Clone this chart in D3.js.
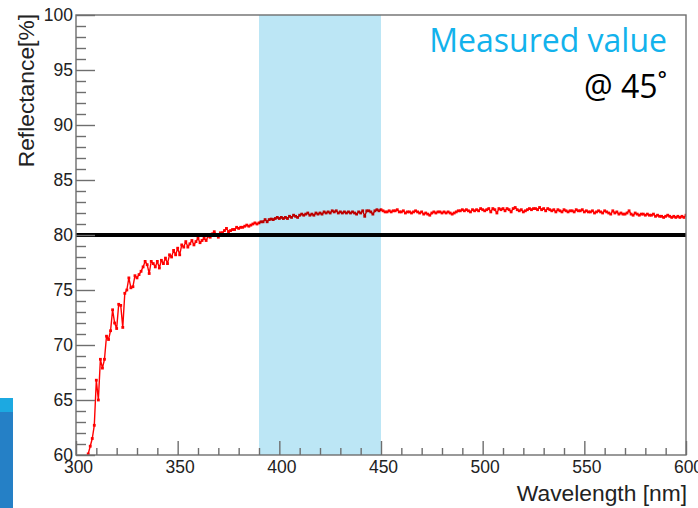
<!DOCTYPE html>
<html>
<head>
<meta charset="utf-8">
<script src="https://cdn.jsdelivr.net/npm/d3@7"></script>
<style>
  body { margin: 0; background: #fff; }
  svg { display: block; }
  .axis text { font-family: "Liberation Sans", Arial, sans-serif; font-size: 17.5px; fill: #222; }
  .axis path, .axis line { stroke: #6e6e6e; stroke-width: 1.4; }
</style>
</head>
<body>
<div id="graph"></div>
<script>
// measured reflectance, one sample per nm starting at 306 nm
var wlStart = 306;
var reflectance = [
  60.1, 60.8, 61.5, 62.7, 66.8, 65.0, 68.7, 67.9, 68.7, 70.8,
  70.5, 71.3, 73.2, 72.0, 71.5, 73.7, 73.6, 71.6, 74.7, 75.0,
  76.1, 75.2, 75.3, 76.3, 76.1, 76.4, 76.7, 77.1, 77.6, 77.3,
  76.5, 77.6, 77.4, 77.1, 77.6, 77.0, 77.7, 77.4, 77.9, 77.4,
  78.2, 78.0, 78.6, 78.2, 78.8, 78.2, 79.1, 78.9, 79.4, 78.9,
  79.2, 79.5, 79.1, 79.4, 79.7, 79.3, 79.5, 79.7, 79.5, 79.9,
  79.8, 80.1, 80.3, 80.0, 79.8, 80.2, 80.2, 80.4, 80.6, 80.3,
  80.4, 80.5, 80.5, 80.7, 80.6, 80.7, 80.7, 80.8, 80.9, 80.8,
  80.9, 81.0, 81.1, 81.0, 81.1, 81.2, 81.2, 81.4, 81.2, 81.4,
  81.45, 81.4, 81.5, 81.6, 81.5, 81.6, 81.5, 81.6, 81.5, 81.7,
  81.6, 81.8, 81.7, 81.6, 81.8, 81.9, 81.8, 81.9, 82.0, 81.8,
  81.9, 81.8, 82.0, 81.9, 82.0, 81.9, 82.1, 82.0, 82.1, 82.0,
  82.2, 82.1, 82.2, 82.0, 82.1, 82.0, 82.1, 82.0, 82.1, 82.0,
  82.1, 82.0, 81.9, 82.1, 82.0, 82.2, 81.7, 82.2, 82.2, 82.1,
  81.9, 82.2, 82.3, 82.2, 82.3, 82.2, 82.1, 82.1, 82.2, 82.1,
  82.2, 82.2, 82.3, 82.1, 82.1, 82.2, 82.0, 82.1, 82.1, 82.0,
  82.1, 82.2, 82.1, 82.0, 82.1, 81.9, 82.0, 81.9, 81.8, 82.0,
  82.1, 82.0, 82.1, 82.1, 82.0, 82.1, 82.0, 82.1, 82.0, 81.9,
  82.0, 82.1, 82.2, 82.2, 82.3, 82.2, 82.3, 82.2, 82.1, 82.3,
  82.2, 82.3, 82.2, 82.4, 82.3, 82.2, 82.3, 82.4, 82.1, 82.4,
  82.3, 82.0, 82.4, 82.3, 82.4, 82.2, 82.4, 82.3, 82.1, 82.4,
  82.5, 82.3, 82.2, 82.3, 82.1, 82.2, 82.3, 82.4, 82.3, 82.4,
  82.4, 82.3, 82.5, 82.3, 82.4, 82.2, 82.4, 82.3, 82.2, 82.3,
  82.1, 82.3, 82.2, 82.1, 82.3, 82.2, 82.1, 82.2, 82.2, 82.1,
  82.3, 82.2, 82.2, 82.3, 82.1, 82.2, 82.1, 82.1, 82.2, 82.0,
  82.1, 82.2, 82.1, 82.0, 82.2, 82.1, 82.0, 81.9, 82.2, 82.0,
  82.1, 81.9, 82.0, 81.9, 81.9, 82.0, 82.2, 81.9, 81.8, 82.0,
  81.9, 81.8, 81.9, 81.9, 81.8, 81.9, 81.8, 81.8, 81.9, 81.7,
  81.8, 81.7, 81.7, 81.6, 81.7, 81.8, 81.7, 81.6, 81.7, 81.6,
  81.7, 81.6, 81.7, 81.6, 81.8
];
var xMajor = [300, 350, 400, 450, 500, 550, 600];
var xMinor = [310, 320, 330, 340, 360, 370, 380, 390, 410, 420, 430, 440,
              460, 470, 480, 490, 510, 520, 530, 540, 560, 570, 580, 590];
var yMajor = [60, 65, 70, 75, 80, 85, 90, 95, 100];
var yMinor = d3.range(61, 100).filter(v => v % 5 != 0);
var band = [390, 450];
var spec = 80;

var data = reflectance.map((r, i) => ({wl: wlStart + i, r: r}));

//Display specifications
const margin = {top: 15, right: 12, bottom: 53, left: 76};
const W = 698, H = 508;
const width = W - margin.left - margin.right;
const height = H - margin.top - margin.bottom;

var svg = d3.select("#graph").append("svg")
    .attr("width", W).attr("height", H);

// slide leftovers at bottom left
svg.append("rect").attr("x", 0).attr("y", 398).attr("width", 13).attr("height", 110).attr("fill", "#2580c6");
svg.append("rect").attr("x", 0).attr("y", 398).attr("width", 13).attr("height", 14).attr("fill", "#1ca9e1");

var x = d3.scaleLinear().domain([300, 600]).range([0, width]);
var y = d3.scaleLinear().domain([60, 100]).range([height, 0]);

var g = svg.append("g").attr("transform", "translate(" + margin.left + "," + margin.top + ")");

g.append("clipPath").attr("id", "clip")
  .append("rect").attr("width", width).attr("height", height);

var plot = g.append("g").attr("clip-path", "url(#clip)");

//red measured curve
var line = d3.line().x(d => x(d.wl)).y(d => y(d.r));
plot.append("path")
    .attr("d", line(data))
    .attr("fill", "none")
    .attr("stroke", "#ff0000")
    .attr("stroke-width", 1.4)
    .attr("stroke-linejoin", "round");

plot.selectAll("rect.pt").data(data).enter().append("rect")
    .attr("class", "pt")
    .attr("x", d => x(d.wl) - 1.4)
    .attr("y", d => y(d.r) - 1.4)
    .attr("width", 2.8).attr("height", 2.8)
    .attr("fill", "#ff0000");

//highlighted band
plot.append("rect")
    .attr("x", x(band[0]))
    .attr("width", x(band[1]) - x(band[0]))
    .attr("y", 0).attr("height", height)
    .attr("fill", "#bce6f5")
    .style("mix-blend-mode", "multiply");

//spec line
plot.append("line")
    .attr("x1", 0).attr("x2", width)
    .attr("y1", y(spec)).attr("y2", y(spec))
    .attr("stroke", "#000").attr("stroke-width", 4);

//frame
g.append("rect").attr("width", width).attr("height", height)
    .attr("fill", "none").attr("stroke", "#6e6e6e").attr("stroke-width", 1.4);

//X axis
g.append("g").attr("class", "axis")
    .attr("transform", "translate(0," + height + ")")
    .call(d3.axisBottom(x).tickValues(xMajor).tickSize(-14).tickFormat(d3.format("d")))
    .call(a => a.select(".domain").remove())
    .call(a => a.selectAll("text").attr("dy", "0em").attr("y", 18).attr("x", 2));
g.append("g").attr("class", "axis")
    .attr("transform", "translate(0," + height + ")")
    .call(d3.axisBottom(x).tickValues(xMinor).tickSize(-7).tickFormat(""))
    .call(a => a.select(".domain").remove());

//Y axis
g.append("g").attr("class", "axis")
    .call(d3.axisLeft(y).tickValues(yMajor).tickSize(-19))
    .call(a => a.select(".domain").remove())
    .call(a => a.selectAll("text").attr("x", -3).attr("dy", "0.3em"));
g.append("g").attr("class", "axis")
    .call(d3.axisLeft(y).tickValues(yMinor).tickSize(-10).tickFormat(""))
    .call(a => a.select(".domain").remove());

//axis titles
svg.append("text")
    .attr("transform", "translate(34,14) rotate(-90)")
    .attr("text-anchor", "end")
    .style("font-family", "Liberation Sans, Arial, sans-serif")
    .style("font-size", "22.8px").style("fill", "#222")
    .text("Reflectance[%]");

svg.append("text")
    .attr("x", 687).attr("y", 501)
    .attr("text-anchor", "end")
    .style("font-family", "Liberation Sans, Arial, sans-serif")
    .style("font-size", "22.8px").style("fill", "#222")
    .text("Wavelength [nm]");

//annotation
svg.append("text")
    .attr("x", 667).attr("y", 52)
    .attr("text-anchor", "end")
    .style("font-family", "Open Sans, sans-serif")
    .style("font-size", "32px").style("fill", "#12b2ec")
    .text("Measured value");
svg.append("text")
    .attr("x", 667).attr("y", 98)
    .attr("text-anchor", "end")
    .style("font-family", "Open Sans, sans-serif")
    .style("font-size", "32px").style("fill", "#000")
    .text("@ 45˚");
</script>
</body>
</html>
